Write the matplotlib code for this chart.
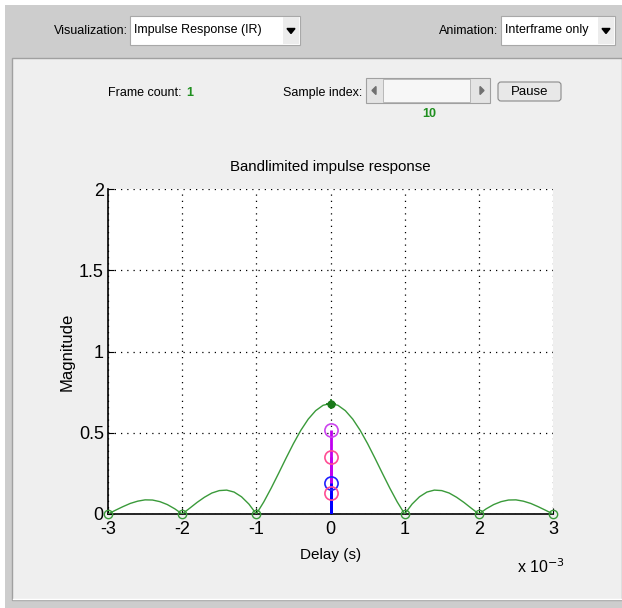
"""
Bandlimited impulse response view, with the GUI frame around it.
"""

import numpy as np
import matplotlib
matplotlib.use("Agg")
import matplotlib.pyplot as plt
from matplotlib.patches import Rectangle, FancyBboxPatch, Polygon

FONT = ["Liberation Sans Narrow", "Liberation Sans", "DejaVu Sans"]
plt.rcParams["font.family"] = FONT

# ── data (delay in ms, shown with the x 10^-3 multiplier) ─────────────────────
DELAY_MS = [-3.0, -2.9, -2.8, -2.7, -2.6, -2.5, -2.4, -2.3, -2.2, -2.1,
            -2.0, -1.9, -1.8, -1.7, -1.6, -1.5, -1.4, -1.3, -1.2, -1.1,
            -1.0, -0.9, -0.8, -0.7, -0.6, -0.5, -0.4, -0.3, -0.2, -0.1,
            0.0, 0.1, 0.2, 0.3, 0.4, 0.5, 0.6, 0.7, 0.8, 0.9,
            1.0, 1.1, 1.2, 1.3, 1.4, 1.5, 1.6, 1.7, 1.8, 1.9,
            2.0, 2.1, 2.2, 2.3, 2.4, 2.5, 2.6, 2.7, 2.8, 2.9, 3.0]
MAGNITUDE = [0.0, 0.023, 0.045, 0.065, 0.079, 0.087, 0.086, 0.076, 0.058, 0.032,
             0.0, 0.035, 0.071, 0.103, 0.129, 0.144, 0.147, 0.135, 0.106, 0.061,
             0.0, 0.074, 0.159, 0.250, 0.343, 0.433, 0.515, 0.584, 0.636, 0.669,
             0.68, 0.669, 0.636, 0.584, 0.515, 0.433, 0.343, 0.250, 0.159, 0.074,
             0.0, 0.061, 0.106, 0.135, 0.147, 0.144, 0.129, 0.103, 0.071, 0.035,
             0.0, 0.032, 0.058, 0.076, 0.086, 0.087, 0.079, 0.065, 0.045, 0.023, 0.0]
ZERO_MS = [-3, -2, -1, 1, 2, 3]
PEAK = (0.0, 0.68)

PATH_DELAY_MS = [0.0, 0.0, 0.0, 0.0]
PATH_GAIN = [0.52, 0.35, 0.19, 0.13]
PATH_LINE = ["#c000f0", "#c000f0", "#0000ff", "#0000ff"]
PATH_MARK = ["#cc44ee", "#ff4d94", "#2020ff", "#ff4d94"]

W, H = 622, 608
GRAY = "#cdcdcd"
PANEL = "#efefef"
GREEN_TXT = "#1f8f1f"

fig = plt.figure(figsize=(W / 100, H / 100), dpi=100, facecolor="white")

# ── GUI frame drawn in pixel coordinates ──────────────────────────────────────
bg = fig.add_axes([0, 0, 1, 1])
bg.set_xlim(0, W)
bg.set_ylim(H, 0)
bg.axis("off")

bg.add_patch(Rectangle((5, 5), W - 5, H - 5, color=GRAY, lw=0))


def dropdown(x0, x1, y0, y1, label):
    bg.add_patch(Rectangle((x0, y0), x1 - x0, y1 - y0, facecolor="white",
                           edgecolor="#a8a8a8", lw=0.8))
    bg.add_patch(Rectangle((x1 - 17, y0 + 1), 16, y1 - y0 - 2,
                           facecolor="#ececec", edgecolor="none"))
    ax_, ay = x1 - 9, (y0 + y1) / 2
    bg.add_patch(Polygon([[ax_ - 4, ay - 2], [ax_ + 4, ay - 2], [ax_, ay + 3]],
                         closed=True, color="black"))
    bg.text(x0 + 4, ay, label, fontsize=9, va="center", ha="left")


bg.text(128, 31, "Visualization:", fontsize=9, va="center", ha="right")
dropdown(130, 300, 16, 45, "Impulse Response (IR)")
bg.text(498, 31, "Animation:", fontsize=9, va="center", ha="right")
dropdown(501, 615, 16, 45, "Interframe only")

# panel
bg.add_patch(Rectangle((12, 58), W - 12, 542, facecolor=PANEL,
                       edgecolor="#a0a0a0", lw=1.0))
bg.plot([13, W], [599, 599], color="white", lw=1)

bg.text(182, 93, "Frame count:", fontsize=9, va="center", ha="right")
bg.text(186, 93, "1", fontsize=9, va="center", ha="left",
        color=GREEN_TXT, fontweight="bold")
bg.text(362, 93, "Sample index:", fontsize=9, va="center", ha="right")

# slider
bg.add_patch(Rectangle((366, 78), 124, 25, facecolor="#e4e4e4",
                       edgecolor="#a0a0a0", lw=0.8))
bg.add_patch(Rectangle((383, 79), 87, 23, facecolor="#f7f7f7",
                       edgecolor="#b0b0b0", lw=0.6))
bg.add_patch(Polygon([[372, 90.5], [376, 86.5], [376, 94.5]], closed=True,
                     color="#707070"))
bg.add_patch(Polygon([[484, 90.5], [480, 86.5], [480, 94.5]], closed=True,
                     color="#707070"))
bg.text(429, 114, "10", fontsize=9, va="center", ha="center",
        color=GREEN_TXT, fontweight="bold")

# pause button
bg.add_patch(FancyBboxPatch((498, 82), 63, 19, boxstyle="round,pad=0,rounding_size=3",
                            facecolor="#e8e8e8", edgecolor="#8a8a8a", lw=0.8))
bg.text(529.5, 92, "Pause", fontsize=9.5, va="center", ha="center")

# ── plot axes ─────────────────────────────────────────────────────────────────
ax = fig.add_axes([108 / W, 1 - 514 / H, 445 / W, 325 / H])
ax.set_facecolor("white")

ax.plot(DELAY_MS, MAGNITUDE, color="#3a9a3a", lw=1.0, zorder=3)
ax.plot(ZERO_MS, np.zeros(len(ZERO_MS)), "o", mfc="none", mec="#3a9a3a",
        ms=6, mew=1.0, zorder=4, clip_on=False)
ax.plot(*PEAK, "o", color="#1a7a1a", ms=5, zorder=4)
ax.plot(*PEAK, "+", color="#1a7a1a", ms=7, mew=1.2, zorder=4)

for d, g, lc, mc in zip(PATH_DELAY_MS, PATH_GAIN, PATH_LINE, PATH_MARK):
    ax.vlines(d, 0, g, color=lc, lw=2.0, zorder=5)
for d, g, lc, mc in zip(PATH_DELAY_MS, PATH_GAIN, PATH_LINE, PATH_MARK):
    ax.plot(d, g, "o", mfc="none", mec=mc, ms=9.5, mew=1.2, zorder=6)

ax.set_xlim(-3, 3)
ax.set_ylim(0, 2)
ax.set_xticks([-3, -2, -1, 0, 1, 2, 3])
ax.set_yticks([0, 0.5, 1, 1.5, 2])
ax.set_xticklabels(["-3", "-2", "-1", "0", "1", "2", "3"])
ax.set_yticklabels(["0", "0.5", "1", "1.5", "2"])
ax.grid(True, color="black", ls=(0, (1, 4)), lw=0.9)
ax.set_axisbelow(True)
for s in ["top", "right"]:
    ax.spines[s].set_visible(False)
for s in ["left", "bottom"]:
    ax.spines[s].set_linewidth(1.2)
ax.tick_params(direction="in", length=4, labelsize=13)
ax.tick_params(axis="x", pad=5)
ax.tick_params(axis="y", pad=3)

ax.set_title("Bandlimited impulse response", fontsize=10.8, pad=13)
ax.set_xlabel("Delay (s)", fontsize=11, labelpad=7)
ax.set_ylabel("Magnitude", fontsize=12, labelpad=3)
fig.text(517 / W, 1 - 567 / H, r"x 10$^{-3}$", fontsize=11.5, ha="left", va="center")

fig.savefig("out.png", dpi=100, facecolor="white")
plt.close(fig)
